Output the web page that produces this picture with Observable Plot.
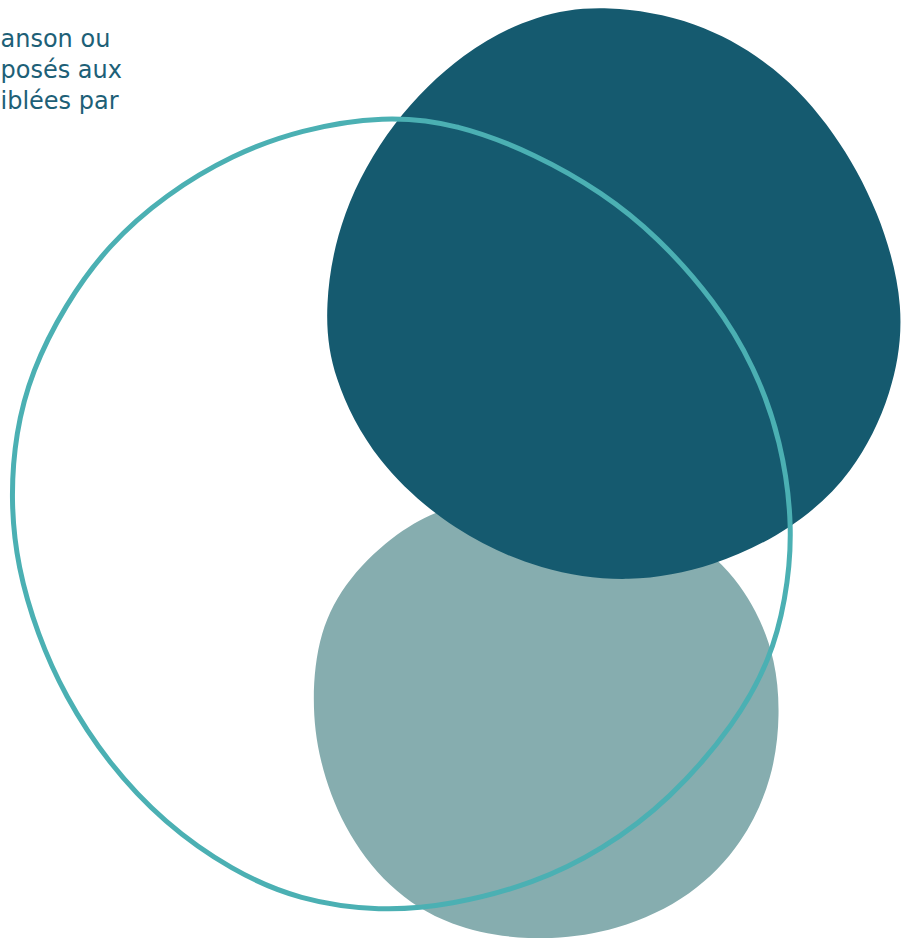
<!DOCTYPE html>
<html>
<head>
<meta charset="utf-8">
<script src="https://cdn.jsdelivr.net/npm/d3@7"></script>
<script src="https://cdn.jsdelivr.net/npm/@observablehq/plot@0.6"></script>
<style>
  html, body { margin: 0; padding: 0; background: #ffffff; }
  #chart svg { display: block; }
</style>
</head>
<body>
<div id="chart"></div>
<script>
// Outline points of each shape
const lightBlob = [
  [480, 498], [560, 490], [640, 503], [722, 558], [758, 612], [775, 660],
  [780, 713], [773, 777], [743, 843], [692, 896], [618, 931], [533, 942],
  [448, 927], [387, 888], [342, 827], [318, 760], [311, 700], [318, 631],
  [347, 577], [398, 530], [440, 509]
];
const darkBlob = [
  [605, 4], [696, 19], [776, 65], [835, 131], [879, 210], [906, 307],
  [893, 393], [853, 474], [792, 529], [713, 567], [629, 583], [541, 571],
  [454, 532], [374, 462], [331, 376], [323, 307], [339, 213], [391, 120],
  [463, 50], [537, 13]
];
const ring = [
  [383, 115], [457, 123], [536, 154], [602, 192], [656, 235], [715, 301],
  [754, 366], [781, 440], [793, 529], [785, 601], [770, 658], [736, 722],
  [669, 800], [601, 850], [534, 883], [450, 905], [380, 911], [299, 900],
  [231, 870], [164, 823], [107, 762], [64, 695], [37, 634], [17, 567],
  [10, 500], [15, 432], [31, 371], [64, 305], [108, 244], [165, 194],
  [232, 154], [300, 129]
];
const textLines = ["anson ou", "posés aux", "iblées par"];

const chart = Plot.plot({
  width: 915,
  height: 938,
  margin: 0,
  x: { domain: [0, 915], axis: null },
  y: { domain: [0, 938], range: [0, 938], axis: null },
  style: { background: "#ffffff", overflow: "hidden" },
  marks: [
    Plot.line(lightBlob, { x: d => d[0], y: d => d[1], curve: "basis-closed", fill: "#86ADAF", stroke: "none" }),
    Plot.line(darkBlob, { x: d => d[0], y: d => d[1], curve: "basis-closed", fill: "#155A6F", stroke: "none" }),
    Plot.line(ring, { x: d => d[0], y: d => d[1], curve: "basis-closed", fill: "none", stroke: "#4BB0B3", strokeWidth: 5 }),
    Plot.text([textLines.join("\n")], {
      frameAnchor: "top-left",
      textAnchor: "start",
      lineAnchor: "top",
      lineHeight: 1.29,
      dx: 0,
      dy: 25,
      fontSize: 24,
      fontFamily: "DejaVu Sans",
      fill: "#1D6077"
    })
  ]
});
document.getElementById("chart").appendChild(chart);
</script>
</body>
</html>
